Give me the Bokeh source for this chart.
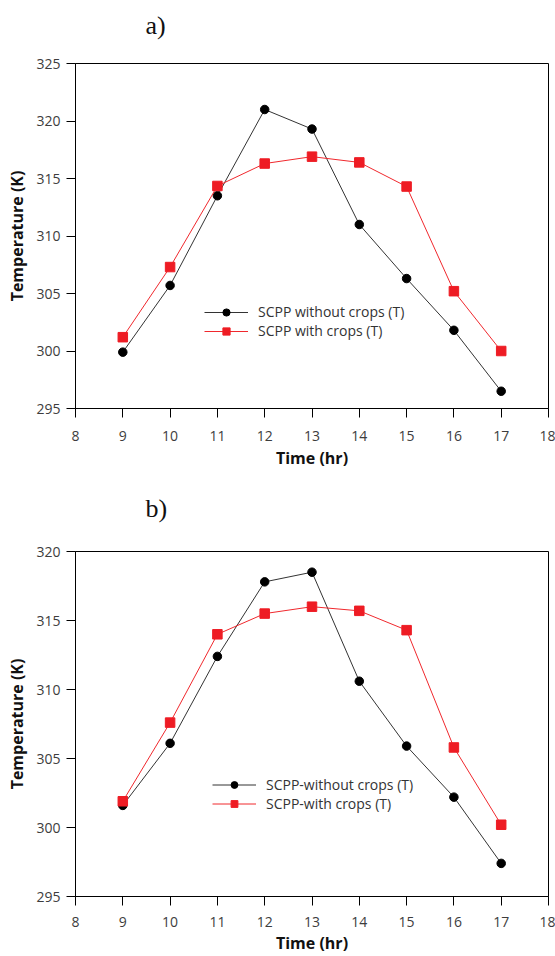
from bokeh.plotting import figure
from bokeh.models import Range1d, FixedTicker, Legend, LegendItem, Title
from bokeh.layouts import column
from bokeh.embed import file_html
from bokeh.resources import INLINE

hours = [9, 10, 11, 12, 13, 14, 15, 16, 17]
x_ticks = [8, 9, 10, 11, 12, 13, 14, 15, 16, 17, 18]

a_without = [299.9, 305.7, 313.5, 321.0, 319.3, 311.0, 306.3, 301.8, 296.5]
a_with = [301.2, 307.3, 314.35, 316.3, 316.9, 316.4, 314.3, 305.2, 300.0]
a_yticks = [295, 300, 305, 310, 315, 320, 325]
a_labels = ["SCPP without crops (T)", "SCPP with crops (T)"]

b_without = [301.6, 306.1, 312.4, 317.8, 318.5, 310.6, 305.9, 302.2, 297.4]
b_with = [301.9, 307.6, 314.0, 315.5, 316.0, 315.7, 314.3, 305.8, 300.2]
b_yticks = [295, 300, 305, 310, 315, 320]
b_labels = ["SCPP-without crops (T)", "SCPP-with crops (T)"]

FONT = "Open Sans"
TICK_COLOR = "#3d3d3d"


def make_panel(tag, without, with_, yticks, labels, height, top, bottom,
               legend_loc, legend_spacing, tag_standoff, x_label_gap, x_std):
    p = figure(width=555, height=height, output_backend="svg",
               toolbar_location=None, title=None,
               x_range=Range1d(8, 18),
               y_range=Range1d(yticks[0], yticks[-1]),
               min_border_left=75, min_border_right=7,
               min_border_top=top, min_border_bottom=bottom)
    p.xgrid.visible = False
    p.ygrid.visible = False
    p.outline_line_color = "black"
    p.outline_line_width = 1
    p.background_fill_color = "white"
    p.border_fill_color = "white"

    spacer = Title(text=" ", text_font_size="1px", standoff=11,
                   vertical_align="top", align="left")
    p.add_layout(spacer, "above")
    tag_title = Title(text=tag, align="left", vertical_align="top",
                      offset=70, standoff=tag_standoff,
                      text_font="Liberation Serif", text_font_size="26px",
                      text_font_style="normal", text_color="#111111")
    p.add_layout(tag_title, "above")

    for ax in (p.xaxis[0], p.yaxis[0]):
        ax.axis_line_color = "black"
        ax.major_tick_line_color = "black"
        ax.major_tick_out = 9
        ax.major_tick_in = 0
        ax.minor_tick_line_color = None
        ax.major_label_text_font = FONT
        ax.major_label_text_font_size = "14px"
        ax.major_label_text_color = TICK_COLOR
        ax.axis_label_text_font = FONT
        ax.axis_label_text_font_size = "16px"
        ax.axis_label_text_font_style = "bold"
        ax.axis_label_text_color = "#111111"

    p.xaxis.ticker = FixedTicker(ticks=x_ticks)
    p.yaxis.ticker = FixedTicker(ticks=yticks)
    p.xaxis.axis_label = "Time (hr)"
    p.yaxis.axis_label = "Temperature (K)"
    p.xaxis.major_label_standoff = x_std
    p.xaxis.axis_label_standoff = x_label_gap
    p.yaxis.major_label_standoff = 6
    p.yaxis.axis_label_standoff = 5

    l1 = p.line(hours, without, line_color="#333333", line_width=1)
    s1 = p.scatter(hours, without, marker="circle", size=8.5,
                   fill_color="black", line_color="black")
    l2 = p.line(hours, with_, line_color="#f0282d", line_width=1)
    s2 = p.scatter(hours, with_, marker="square", size=9.5,
                   fill_color="#ee1c24", line_color="#ee1c24")

    legend = Legend(items=[LegendItem(label=labels[0], renderers=[l1, s1]),
                           LegendItem(label=labels[1], renderers=[l2, s2])],
                    location=legend_loc,
                    orientation="vertical",
                    background_fill_alpha=0, border_line_color=None,
                    padding=0, margin=0, spacing=0,
                    glyph_width=44, glyph_height=legend_spacing,
                    label_height=legend_spacing, label_standoff=10,
                    label_text_font=FONT, label_text_font_size="14px",
                    label_text_color="#333333")
    p.add_layout(legend)
    return p


pa = make_panel("a)", a_without, a_with, a_yticks, a_labels,
                478, 63, 70, (129, 68), 18, 16, 3, 13)
pb = make_panel("b)", b_without, b_with, b_yticks, b_labels,
                478, 73, 59, (137, 83), 17, 26, 2, 11)

layout = column(pa, pb, spacing=0)
open("out.html", "w").write(file_html(layout, INLINE))
